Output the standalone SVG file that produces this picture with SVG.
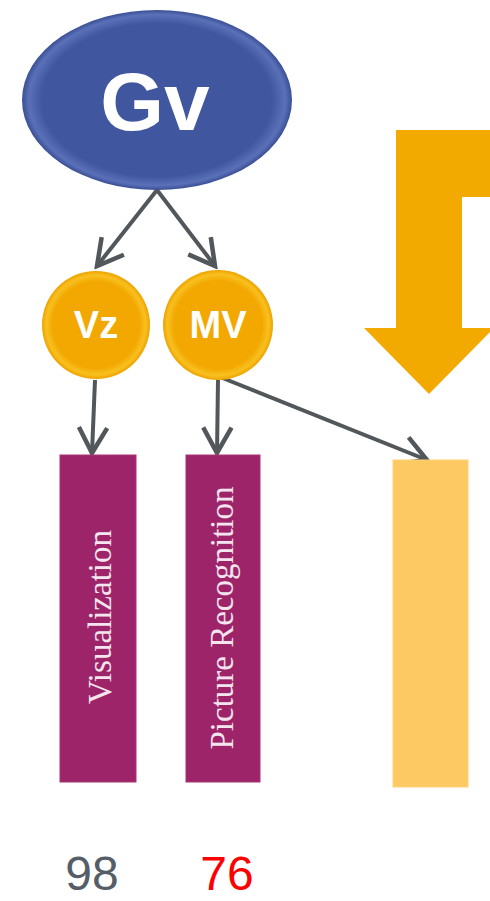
<svg xmlns="http://www.w3.org/2000/svg" width="490" height="901" viewBox="0 0 490 901">
<defs>
<radialGradient id="gBlue" cx="0.5" cy="0.5" r="0.5">
<stop offset="0.85" stop-color="#40569e"/>
<stop offset="0.95" stop-color="#5a70b8"/>
<stop offset="1" stop-color="#3a4f94"/>
</radialGradient>
<radialGradient id="gOrange" cx="0.5" cy="0.5" r="0.5">
<stop offset="0.8" stop-color="#f2a800"/>
<stop offset="0.92" stop-color="#f8c020"/>
<stop offset="1" stop-color="#eea300"/>
</radialGradient>
<marker id="ah" viewBox="0 0 12 12" refX="10.5" refY="6" markerWidth="8.5" markerHeight="8.5" orient="auto" markerUnits="strokeWidth">
<path d="M1.5,1 L10.5,6 L1.5,11" fill="none" stroke="#52575b" stroke-width="1.6" stroke-linejoin="miter"/>
</marker>
<style>
.conn{stroke:#52575b;stroke-width:4;fill:none;marker-end:url(#ah)}
.ctext{font-family:"Liberation Sans",Arial,sans-serif;font-weight:bold;fill:#fff;text-anchor:middle}
.vtext{font-family:"Liberation Serif","Times New Roman",serif;font-size:33px;fill:#f3e4ee;text-anchor:middle}
.purple{fill:#9e246a;stroke:#a83474;stroke-width:1}
.num{font-family:"Liberation Sans",Arial,sans-serif;font-size:48px;text-anchor:middle}
</style>
</defs>
<rect width="490" height="901" fill="#fff"/>
<g id="bigArrow">
<path d="M396,130 L490,130 L490,197 L462,197 L462,328 L494,328 L429,394 L364,328 L396,328 Z" fill="#f2a900"/>
</g>
<g id="connectors">
<line class="conn" x1="157" y1="190" x2="97" y2="266"/>
<line class="conn" x1="157" y1="190" x2="215" y2="266"/>
<line class="conn" x1="95" y1="380" x2="92" y2="453"/>
<line class="conn" x1="218" y1="380" x2="217" y2="453"/>
<line class="conn" x1="220" y1="377" x2="427" y2="460"/>
</g>
<g id="Gv">
<ellipse cx="157" cy="100" rx="135" ry="90" fill="url(#gBlue)"/>
<text class="ctext" x="155" y="130" font-size="82">Gv</text>
</g>
<g id="Vz">
<circle cx="96" cy="325" r="54" fill="url(#gOrange)"/>
<text class="ctext" x="96" y="338" font-size="38">Vz</text>
</g>
<g id="MV">
<circle cx="218" cy="325" r="55" fill="url(#gOrange)"/>
<text class="ctext" x="218" y="338" font-size="38">MV</text>
</g>
<g id="Visualization">
<rect class="purple" x="60" y="455" width="76" height="327"/>
<text class="vtext" transform="translate(111,617) rotate(-90)">Visualization</text>
</g>
<g id="PictureRecognition">
<rect class="purple" x="186" y="455" width="74" height="327"/>
<text class="vtext" transform="translate(233,618) rotate(-90)">Picture Recognition</text>
</g>
<g id="orangeBox">
<rect x="393" y="460" width="75" height="327" fill="#fdc962" stroke="#fdd27a" stroke-width="1"/>
</g>
<g id="numbers">
<text class="num" x="92" y="890" fill="#555e68">98</text>
<text class="num" x="227" y="890" fill="#ff0000">76</text>
</g>
</svg>
